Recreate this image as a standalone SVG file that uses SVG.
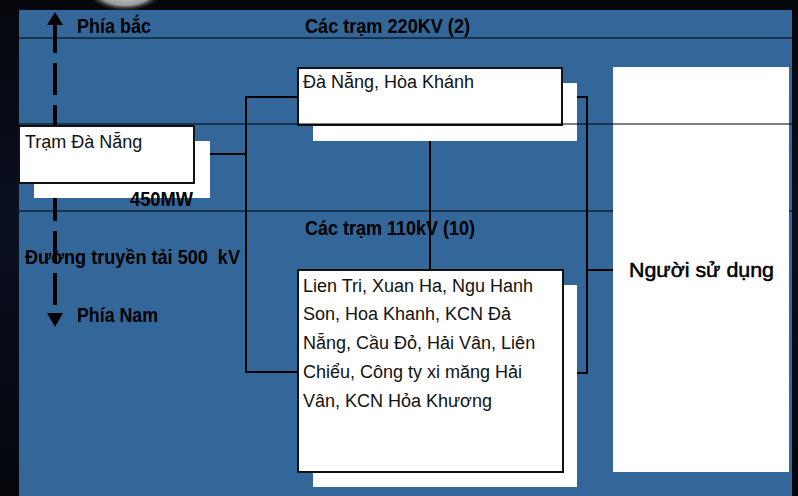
<svg xmlns="http://www.w3.org/2000/svg" width="798" height="496" viewBox="0 0 798 496">
<defs>
<radialGradient id="moon" cx="0.5" cy="0.5" r="0.5">
<stop offset="0" stop-color="#e8e8e8"/>
<stop offset="0.7" stop-color="#9a9a9a"/>
<stop offset="1" stop-color="#000" stop-opacity="0"/>
</radialGradient>
<linearGradient id="side" x1="0" y1="0" x2="0" y2="1">
<stop offset="0" stop-color="#05070d"/>
<stop offset="0.45" stop-color="#0b1020"/>
<stop offset="1" stop-color="#04060c"/>
</linearGradient>
</defs>
<style>
.lbl{font-family:"Liberation Sans",Arial,sans-serif;font-size:20px;font-weight:bold;fill:#000;white-space:pre}
.txt{font-family:"Liberation Sans",Arial,sans-serif;font-size:18px;fill:#111}
.usr{font-family:"Liberation Sans",Arial,sans-serif;font-size:20px;fill:#000;stroke:#000;stroke-width:0.5}
.box{fill:#fff;stroke:#111;stroke-width:2}
.shadow{fill:#fff}
.con{fill:none;stroke:#000;stroke-width:2}
.rule{stroke:#000;stroke-width:1.2}
</style>
<rect x="0" y="0" width="798" height="496" fill="url(#side)"/>
<ellipse cx="125" cy="-10" rx="40" ry="22" fill="url(#moon)"/>
<rect x="19" y="10" width="773" height="486" fill="#336699"/>
<line class="rule" x1="19" y1="38" x2="792" y2="38"/>
<line class="rule" x1="19" y1="211" x2="792" y2="211"/>
<g id="arrow">
<line x1="55" y1="21" x2="55" y2="310" stroke="#000" stroke-width="4" stroke-dasharray="32 10"/>
<polygon points="55,12 47,25 63,25" fill="#000"/>
<polygon points="47,313 63,313 55,327" fill="#000"/>
</g>
<g id="connectors">
<polyline class="con" points="194,154 246,154"/>
<polyline class="con" points="298,97 246,97 246,372 298,372"/>
<line class="con" x1="430" y1="126" x2="430" y2="270"/>
<polyline class="con" points="562,97 587,97 587,373 563,373"/>
<line class="con" x1="587" y1="270" x2="613" y2="270"/>
</g>
<g id="tram-da-nang">
<rect class="shadow" x="34" y="141" width="176" height="57"/>
<rect class="box" x="19" y="126" width="175" height="57"/>
<text class="txt" x="25" y="148">Trạm Đà Nẵng</text>
</g>
<g id="tram-220">
<rect class="shadow" x="313" y="83" width="264" height="58"/>
<rect class="box" x="298" y="68" width="264" height="57"/>
<text class="txt" x="303" y="88">Đà Nẵng, Hòa Khánh</text>
</g>
<g id="tram-110">
<rect class="shadow" x="313" y="285" width="264" height="202"/>
<rect class="box" x="298" y="270" width="265" height="202"/>
<text class="txt" x="303" y="292">Lien Tri, Xuan Ha, Ngu Hanh</text>
<text class="txt" x="303" y="320">Son, Hoa Khanh, KCN Đả</text>
<text class="txt" x="303" y="349">Nẵng, Cầu Đỏ, Hải Vân, Liên</text>
<text class="txt" x="303" y="378">Chiểu, Công ty xi măng Hải</text>
<text class="txt" x="303" y="407">Vân, KCN Hỏa Khương</text>
</g>
<g id="nguoi-su-dung">
<rect x="613" y="67" width="176" height="405" fill="#fff"/>
<text class="usr" x="629" y="277" textLength="145" lengthAdjust="spacingAndGlyphs">Người sử dụng</text>
</g>
<line class="rule" x1="19" y1="124" x2="792" y2="124"/>
<g id="labels">
<text class="lbl" x="77" y="33" textLength="74" lengthAdjust="spacingAndGlyphs">Phía bắc</text>
<text class="lbl" x="305" y="33" textLength="165" lengthAdjust="spacingAndGlyphs">Các trạm 220KV (2)</text>
<text class="lbl" x="130" y="206" textLength="63" lengthAdjust="spacingAndGlyphs">450MW</text>
<text class="lbl" x="305" y="235" textLength="170" lengthAdjust="spacingAndGlyphs">Các trạm 110kV (10)</text>
<text class="lbl" x="25" y="264" textLength="215" lengthAdjust="spacingAndGlyphs">Đường truyền tải 500  kV</text>
<text class="lbl" x="77" y="322" textLength="81" lengthAdjust="spacingAndGlyphs">Phía Nam</text>
</g>
</svg>
